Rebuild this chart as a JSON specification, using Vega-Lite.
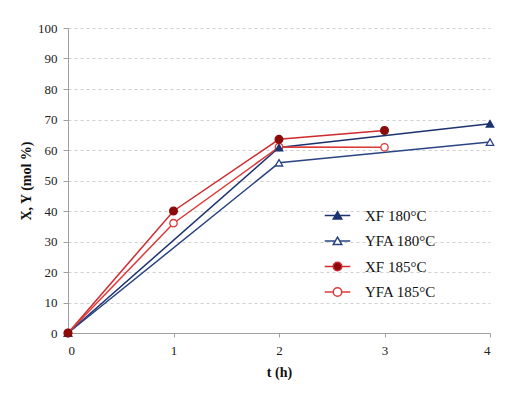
{
  "$schema": "https://vega.github.io/schema/vega-lite/v6.json",
  "width": 422,
  "height": 305,
  "autosize": {"type": "none"},
  "padding": {"left": 68, "top": 28, "right": 23, "bottom": 66},
  "background": "white",
  "config": {
    "view": {"stroke": null},
    "font": "Liberation Serif",
    "axis": {
      "labelColor": "#222",
      "titleColor": "#111",
      "labelFontSize": 13,
      "titleFontSize": 14,
      "titleFontWeight": "bold",
      "domainColor": "#a0a0a0",
      "tickColor": "#a0a0a0"
    }
  },
  "data": {
    "values": [
      {"series": "XF 180°C", "t": 0, "value": 0},
      {"series": "XF 180°C", "t": 2, "value": 60.8},
      {"series": "XF 180°C", "t": 4, "value": 68.6},
      {"series": "YFA 180°C", "t": 0, "value": 0},
      {"series": "YFA 180°C", "t": 2, "value": 55.8},
      {"series": "YFA 180°C", "t": 4, "value": 62.6},
      {"series": "XF 185°C", "t": 0, "value": 0},
      {"series": "XF 185°C", "t": 1, "value": 40},
      {"series": "XF 185°C", "t": 2, "value": 63.5},
      {"series": "XF 185°C", "t": 3, "value": 66.4},
      {"series": "YFA 185°C", "t": 0, "value": 0},
      {"series": "YFA 185°C", "t": 1, "value": 36},
      {"series": "YFA 185°C", "t": 2, "value": 61},
      {"series": "YFA 185°C", "t": 3, "value": 60.9}
    ]
  },
  "encoding": {
    "x": {
      "field": "t",
      "type": "quantitative",
      "scale": {"domain": [0, 4], "nice": false},
      "axis": {
        "title": "t (h)",
        "values": [0, 1, 2, 3, 4],
        "format": "d",
        "grid": false,
        "tickSize": 4,
        "labelPadding": 7,
        "titlePadding": 8,
        "labelFont": "Liberation Serif",
        "titleFont": "Liberation Serif"
      }
    },
    "y": {
      "field": "value",
      "type": "quantitative",
      "scale": {"domain": [0, 100], "nice": false},
      "axis": {
        "title": "X, Y (mol %)",
        "values": [0, 10, 20, 30, 40, 50, 60, 70, 80, 90, 100],
        "grid": true,
        "gridColor": "#cfcfcf",
        "gridDash": [3, 3],
        "gridWidth": 1,
        "tickSize": 5,
        "labelPadding": 6,
        "titlePadding": 4,
        "labelFont": "Liberation Serif",
        "titleFont": "Liberation Serif"
      }
    }
  },
  "layer": [
    {
      "mark": {"type": "line", "strokeWidth": 1.5},
      "encoding": {
        "color": {
          "field": "series",
          "type": "nominal",
          "scale": {
            "domain": ["XF 180°C", "YFA 180°C", "XF 185°C", "YFA 185°C"],
            "range": ["#1c336f", "#2a4584", "#cf2a2e", "#dd3a3a"]
          },
          "legend": {
            "orient": "none",
            "legendX": 260,
            "legendY": 178,
            "title": null,
            "padding": 0,
            "symbolSize": 289,
            "symbolStrokeWidth": 1.5,
            "labelOffset": 18,
            "rowPadding": 7.5,
            "labelFont": "Liberation Serif",
            "labelFontSize": 15,
            "labelColor": "#111",
            "encode": {
              "symbols": {
                "update": {
                  "shape": {"signal": "(datum.value === 'XF 180°C' || datum.value === 'YFA 180°C') ? 'M-1.5,0H-0.28M0.28,0H1.5M0,-0.45L0.5,0.42L-0.5,0.42Z' : 'M-1.5,0H-0.5M0.5,0H1.5M0.5,0A0.5,0.5,0,1,1,-0.5,0A0.5,0.5,0,1,1,0.5,0Z'"},
                  "fill": {"signal": "datum.value === 'XF 180°C' ? '#1c336f' : datum.value === 'XF 185°C' ? '#8b0a0a' : 'white'"},
                  "stroke": {"signal": "datum.value === 'XF 180°C' ? '#1c336f' : datum.value === 'YFA 180°C' ? '#2a4584' : datum.value === 'XF 185°C' ? '#cf2a2e' : '#dd3a3a'"},
                  "strokeWidth": {"value": 1.5},
                  "opacity": {"value": 1}
                }
              }
            }
          }
        }
      }
    },
    {
      "transform": [{"filter": "datum.series === 'YFA 185°C'"}],
      "mark": {"type": "point", "shape": "circle", "size": 55, "strokeWidth": 1.3, "opacity": 1, "fill": "white", "stroke": "#dd3a3a"}
    },
    {
      "transform": [{"filter": "datum.series === 'YFA 180°C'"}],
      "mark": {"type": "point", "shape": "triangle-up", "size": 55, "strokeWidth": 1.3, "opacity": 1, "fill": "white", "stroke": "#2a4584"}
    },
    {
      "transform": [{"filter": "datum.series === 'XF 180°C'"}],
      "mark": {"type": "point", "shape": "triangle-up", "size": 55, "strokeWidth": 1.3, "opacity": 1, "fill": "#1c336f", "stroke": "#1c336f"}
    },
    {
      "transform": [{"filter": "datum.series === 'XF 185°C'"}],
      "mark": {"type": "point", "shape": "circle", "size": 60, "strokeWidth": 1.3, "opacity": 1, "fill": "#8b0a0a", "stroke": "#8b0a0a"}
    }
  ]
}
